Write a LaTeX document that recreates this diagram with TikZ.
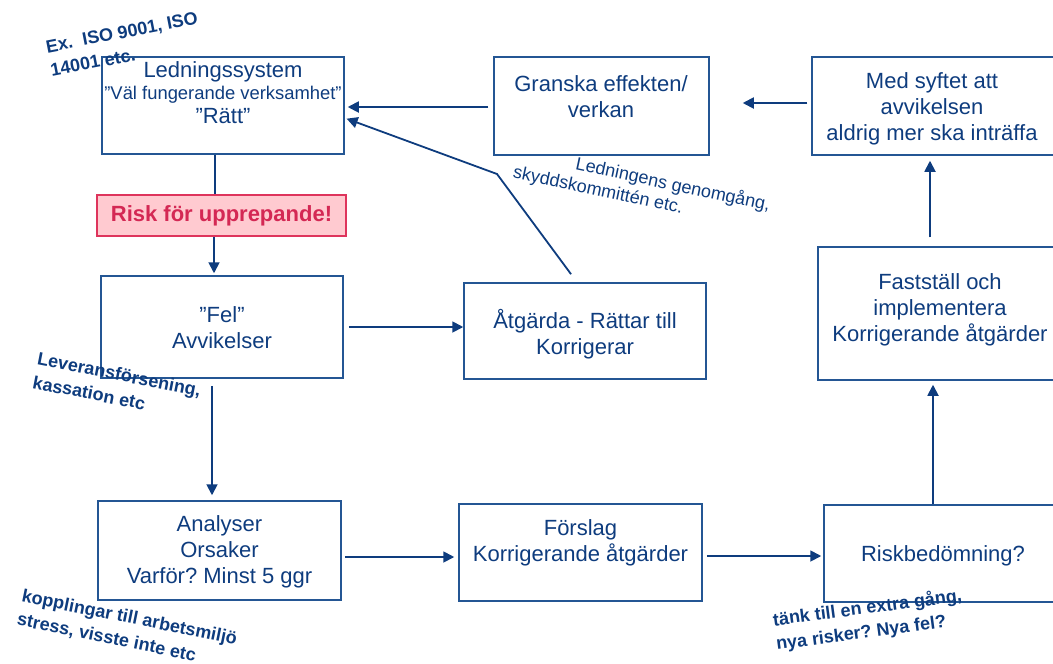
\documentclass[tikz,border=0pt]{standalone}
\usepackage{fontspec}
\setmainfont{Liberation Sans}
\usetikzlibrary{arrows.meta}
\frenchspacing

\definecolor{navy}{RGB}{14,60,126}
\definecolor{boxline}{RGB}{36,86,148}
\definecolor{riskfill}{RGB}{255,202,208}
\definecolor{riskline}{RGB}{222,52,92}
\definecolor{risktext}{RGB}{212,40,84}

\begin{document}
\begin{tikzpicture}[x=1pt, y=-1pt,
		box/.style={draw=boxline, line width=1.5pt, inner sep=0pt},
		boxtext/.style={text=navy, align=center, font=\fontsize{22}{26}\selectfont},
		note/.style={text=navy, align=left, font=\fontsize{18}{24}\selectfont\bfseries},
		link/.style={draw=navy, line width=1.8pt},
		arrow/.style={link, -{Triangle[length=11pt, width=11pt]}}]
		\useasboundingbox (0,0) rectangle (1053,664);
		\clip (0,0) rectangle (1053,664);

		% Draw the boxes of the left column
		\node[box, minimum width=242, minimum height=97] (mgmt) at (223,105.5) {};
		\node[boxtext] (mgmtText) at (223,93) {Ledningssystem\\[-4pt] {\fontsize{18.4}{22}\selectfont ”Väl fungerande verksamhet”}\\[-2pt] ”Rätt”};

		\node[draw=riskline, fill=riskfill, line width=1.6pt, minimum width=249, minimum height=41,
			text=risktext, font=\fontsize{22}{26}\selectfont\bfseries] (risk) at (221.5,215.5) {Risk för upprepande!};

		\node[box, minimum width=242, minimum height=102] (fel) at (222,327) {};
		\node[boxtext] (felText) at (222,328) {”Fel”\\Avvikelser};

		\node[box, minimum width=243, minimum height=99] (analysis) at (219.5,550.5) {};
		\node[boxtext] (analysisText) at (219.5,552) {Analyser\\Orsaker\\Varför? Minst 5 ggr};

		% Draw the boxes of the middle column
		\node[box, minimum width=215, minimum height=98] (review) at (601.5,106) {};
		\node[boxtext] (reviewText) at (601,97) {Granska effekten/\\verkan};

		\node[box, minimum width=242, minimum height=96] (fix) at (585,331) {};
		\node[boxtext] (fixText) at (585,334) {Åtgärda - Rättar till\\Korrigerar};

		\node[box, minimum width=243, minimum height=97] (proposal) at (580.5,552.5) {};
		\node[boxtext] (proposalText) at (580.5,542.5) {Förslag\\Korrigerande åtgärder};

		% Draw the boxes of the right column
		\node[box, minimum width=250, minimum height=98] (purpose) at (937,106) {};
		\node[boxtext] (purposeText) at (932,109) {Med syftet att\\avvikelsen\\aldrig mer ska inträffa};

		\node[box, minimum width=244, minimum height=133] (establish) at (940,313.5) {};
		\node[boxtext] (establishText) at (940,310) {Fastställ och\\implementera\\Korrigerande åtgärder};

		\node[box, minimum width=238, minimum height=97] (riskeval) at (943,553.5) {};
		\node[boxtext] (riskevalText) at (943,556) {Riskbedömning?};

		% Draw the connectors
		\draw[link] ([xshift=-8]mgmt.south) -- ([xshift=-8]mgmt.south |- risk.north);
		\draw[arrow, shorten >=2pt] ([xshift=-7.5]risk.south) -- ([xshift=-7.5]risk.south |- fel.north);
		\draw[arrow, shorten <=7pt, shorten >=5pt] ([xshift=-10]fel.south) -- ([xshift=-10]fel.south |- analysis.north);
		\draw[arrow, shorten <=5pt] (fel.east) -- (fel.east -| fix.west);
		\draw[arrow, shorten <=3pt, shorten >=4pt] ([yshift=-6.5]analysis.east) -- ([yshift=-6.5]analysis.east -| proposal.west);
		\draw[arrow, shorten <=4pt, shorten >=2pt] ([yshift=-3.5]proposal.east) -- ([yshift=-3.5]proposal.east -| riskeval.west);
		\draw[arrow, shorten >=4pt] ([xshift=-10]riskeval.north) -- ([xshift=-10]riskeval.north |- establish.south);
		\draw[arrow, shorten <=9pt, shorten >=5pt] ([xshift=-10]establish.north) -- ([xshift=-10]establish.north |- purpose.south);
		\draw[arrow, shorten <=4pt, shorten >=33pt] ([yshift=3]purpose.west) -- ([yshift=3]purpose.west -| review.east);
		\draw[arrow, shorten <=5pt, shorten >=3pt] ([yshift=-1]review.west) -- ([yshift=-1]review.west -| mgmt.east);

		% The feedback from the action back to the management system
		\coordinate (bend) at (497,174);
		\draw[arrow, shorten <=10pt, shorten >=2pt] ([xshift=-8]fix.north) -- (bend) -- ([yshift=-12.5]mgmt.east);

		% Draw the slanted notes
		\node[note, rotate=11] (isoNote) at (124,44) {Ex.\ \ ISO 9001, ISO\\14001 etc.};
		\node[text=navy, font=\fontsize{18}{22}\selectfont, rotate=-12] (meetingNoteA) at (673,185) {Ledningens genomgång,};
		\node[text=navy, font=\fontsize{18}{22}\selectfont, rotate=-12] (meetingNoteB) at (598,191) {skyddskommittén etc.};
		\node[note, rotate=-11] (deliveryNote) at (117,386) {Leveransförsening,\\kassation etc};
		\node[note, rotate=-11.5] (workNote) at (127,630) {kopplingar till arbetsmiljö\\stress, visste inte etc};
		\node[note, rotate=7.5] (thinkNote) at (869,620) {tänk till en extra gång,\\nya risker? Nya fel?};
\end{tikzpicture}
\end{document}
